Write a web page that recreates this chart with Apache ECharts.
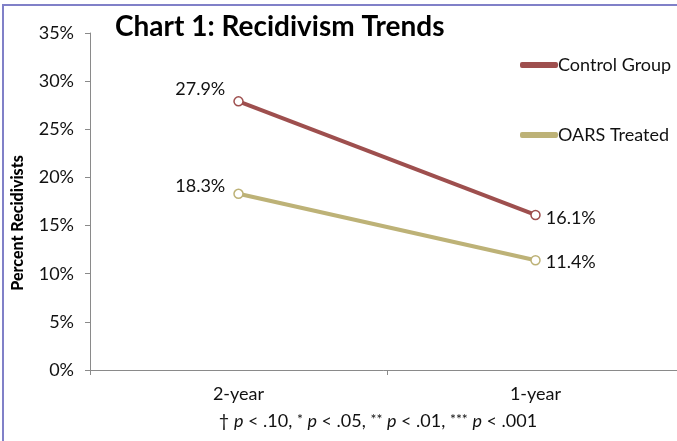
<!DOCTYPE html>
<html>
<head>
<meta charset="utf-8">
<script src="https://cdn.jsdelivr.net/npm/echarts@6/dist/echarts.min.js"></script>
<style>
  html, body { margin: 0; padding: 0; background: #ffffff; }
  #chart { width: 677px; height: 441px; }
</style>
</head>
<body>
<div id="chart"></div>
<script>
// Follow-up periods (x axis)
const categories = ['2-year', '1-year'];
// Recidivism rates, percent
const controlGroup = [27.9, 16.1];
const oarsTreated = [18.3, 11.4];
// Y axis range and step, percent
const yMin = 0;
const yMax = 35;
const yStep = 5;

const FONT = 'Lato';
const RED = '#9E4F4E';
const OLIVE = '#BDB277';
const INK = '#111111';
const AXIS = '#8a8a8a';

const chart = echarts.init(document.getElementById('chart'));

const valueLabel = p => p.value.toFixed(1) + '%';

chart.setOption({
  backgroundColor: '#ffffff',
  animation: false,
  textStyle: { fontFamily: FONT },
  grid: { left: 90, top: 33, width: 594, height: 337, containLabel: false, outerBoundsMode: 'none' },
  legend: {
    orient: 'vertical',
    left: 520,
    top: 56,
    padding: 0,
    itemGap: 52,
    itemWidth: 36,
    itemHeight: 4,
    icon: 'roundRect',
    textStyle: { fontFamily: FONT, fontSize: 18, color: INK, padding: [0, 0, 0, -4] },
    data: [
      { name: 'Control Group', itemStyle: { color: RED } },
      { name: 'OARS Treated', itemStyle: { color: OLIVE } }
    ]
  },
  xAxis: {
    type: 'category',
    data: categories,
    boundaryGap: true,
    axisLine: { lineStyle: { color: AXIS, width: 1 } },
    axisTick: { show: true, length: 5, lineStyle: { color: AXIS } },
    axisLabel: { fontFamily: FONT, fontSize: 18, color: INK, margin: 15 }
  },
  yAxis: {
    type: 'value',
    min: yMin,
    max: yMax,
    interval: yStep,
    axisLine: { show: true, lineStyle: { color: AXIS, width: 1 } },
    axisTick: { show: true, length: 5, lineStyle: { color: AXIS } },
    splitLine: { show: false },
    axisLabel: {
      fontFamily: FONT, fontSize: 18, color: INK, margin: 16,
      formatter: v => v + '%'
    }
  },
  series: [
    {
      name: 'Control Group',
      type: 'line',
      data: [
        controlGroup[0],
        { value: controlGroup[1], label: { position: 'right', distance: 5, offset: [0, 3] } }
      ],
      lineStyle: { color: RED, width: 4 },
      itemStyle: { color: '#ffffff', borderColor: RED, borderWidth: 1.5 },
      symbol: 'circle',
      symbolSize: 9,
      label: {
        show: true,
        fontFamily: FONT, fontSize: 18, color: INK,
        formatter: valueLabel,
        position: 'left',
        distance: 8,
        offset: [0, -12]
      }
    },
    {
      name: 'OARS Treated',
      type: 'line',
      data: [
        oarsTreated[0],
        { value: oarsTreated[1], label: { position: 'right', distance: 5, offset: [0, 2] } }
      ],
      lineStyle: { color: OLIVE, width: 4 },
      itemStyle: { color: '#ffffff', borderColor: OLIVE, borderWidth: 1.5 },
      symbol: 'circle',
      symbolSize: 9,
      label: {
        show: true,
        fontFamily: FONT, fontSize: 18, color: INK,
        formatter: valueLabel,
        position: 'left',
        distance: 8,
        offset: [0, -8]
      }
    }
  ],
  graphic: [
    // frame edges
    { type: 'rect', left: 2, top: 4, shape: { width: 675, height: 2 }, style: { fill: '#8080C8' }, silent: true },
    { type: 'rect', left: 2, top: 4, shape: { width: 2, height: 437 }, style: { fill: '#8080C8' }, silent: true },
    {
      type: 'text', left: 115, top: 13,
      style: { text: 'Chart 1: Recidivism Trends', font: 'bold 28px Lato', fill: '#000' }
    },
    {
      type: 'text', x: 18, y: 223, rotation: Math.PI / 2,
      style: {
        text: 'Percent Recidivists', font: '900 16px Lato', fill: '#000',
        align: 'center', verticalAlign: 'middle'
      }
    },
    {
      type: 'text', x: 378, y: 421,
      style: {
        text: '† {i|p} < .10, {s|*} {i|p} < .05, {s|**} {i|p} < .01, {s|***} {i|p} < .001',
        font: '18px Lato', fill: INK, align: 'center', verticalAlign: 'middle',
        rich: {
          i: { fontFamily: FONT, fontSize: 18, fontStyle: 'italic', fill: INK },
          s: { fontFamily: FONT, fontSize: 14, fill: INK, verticalAlign: 'top', padding: [0, 0, 4, 0] }
        }
      }
    }
  ]
});
</script>
</body>
</html>
